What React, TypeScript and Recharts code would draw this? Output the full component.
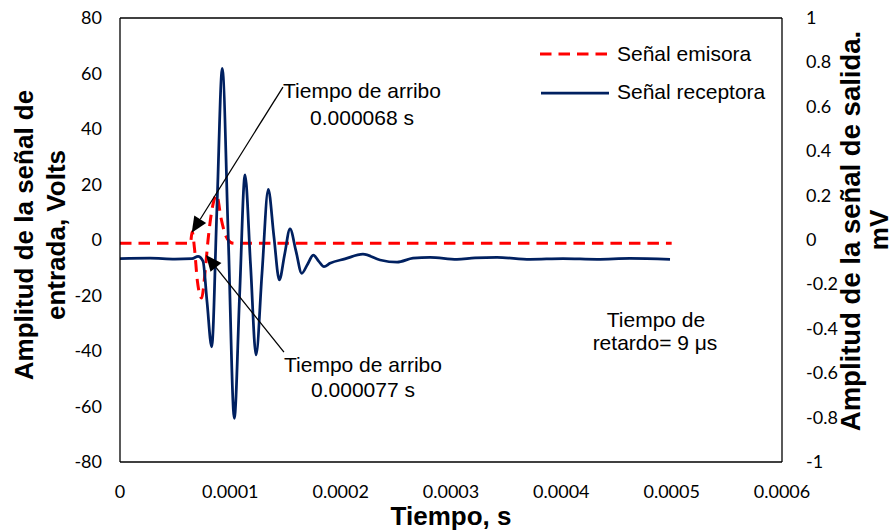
import React from 'react';
import { LineChart, Line, XAxis, YAxis, ReferenceLine } from 'recharts';

// ---- Data ----
const emisoraT = [
  0, 0.00003, 0.0000638, 0.0000654, 0.0000675, 0.0000702, 0.000074, 0.000077,
  0.0000798, 0.0000834, 0.0000876, 0.0000915, 0.0000952, 0.0000997, 0.0001033,
  0.0002, 0.0003, 0.0004, 0.0005,
];
const emisoraV = [
  -1.2, -1.2, -1.2, 3, -3, -15, -20.9, -12,
  0, 11, 16.2, 8, 2.2, -0.7, -1.2,
  -1.2, -1.2, -1.2, -1.2,
];

const receptoraT = [
  0, 0.0000272, 0.0000498, 0.0000653, 0.0000707, 0.0000752, 0.0000789, 0.0000831,
  0.0000879, 0.0000927, 0.0000982, 0.0001036, 0.0001084, 0.0001133, 0.0001183,
  0.0001233, 0.0001287, 0.0001344, 0.0001394, 0.0001444, 0.0001492, 0.0001541,
  0.0001595, 0.0001647, 0.0001699, 0.0001752, 0.00018, 0.0001849, 0.0001903,
  0.0002039, 0.0002202, 0.0002357, 0.0002511, 0.0002656, 0.000281, 0.0003054,
  0.0003218, 0.0003417, 0.0003716, 0.0004015, 0.0004323, 0.0004622, 0.0004985,
];
const receptoraV = [
  -0.084, -0.082, -0.086, -0.084, -0.074, -0.095, -0.28, -0.481,
  0.15, 0.773, 0, -0.803, -0.25, 0.293, -0.11,
  -0.518, -0.15, 0.228, 0.02, -0.18, -0.065, 0.05,
  -0.05, -0.15, -0.11, -0.068, -0.095, -0.12, -0.105,
  -0.085, -0.064, -0.09, -0.1, -0.082, -0.078, -0.087,
  -0.08, -0.078, -0.087, -0.084, -0.087, -0.083, -0.087,
];

const xTicks = [0, 0.0001, 0.0002, 0.0003, 0.0004, 0.0005, 0.0006];
const xTickLabels = ['0', '0.0001', '0.0002', '0.0003', '0.0004', '0.0005', '0.0006'];
const leftTicks = [-80, -60, -40, -20, 0, 20, 40, 60, 80];
const rightTicks = [-1, -0.8, -0.6, -0.4, -0.2, 0, 0.2, 0.4, 0.6, 0.8, 1];

// arrows: [startT, startV, tipT, tipV] on the left axis
const arrow1 = [0.0001477, 55.1, 0.000065, 2.6];
const arrow2 = [0.0001486, -40.4, 0.0000779, -5.4];

const emisoraData = emisoraT.map((t, i) => ({ t, v: emisoraV[i] }));
const receptoraData = receptoraT.map((t, i) => ({ t, v: receptoraV[i] }));

const TICK_FONT = 'Lato, "Open Sans", sans-serif';
const TEXT_FONT = '"Liberation Sans", Arial, sans-serif';
const RED = '#FF0000';
const BLUE = '#002060';

const XTick = (props: any) => {
  const { x, y, payload } = props;
  const idx = xTicks.indexOf(payload.value);
  const label = idx >= 0 ? xTickLabels[idx] : String(payload.value);
  return (
    <text x={x} y={y + 36} textAnchor="middle" fontFamily={TICK_FONT} fontSize={18} fill="#000">
      {label}
    </text>
  );
};

const LeftTick = (props: any) => {
  const { x, y, payload } = props;
  return (
    <text x={x - 18} y={y + 6} textAnchor="end" fontFamily={TICK_FONT} fontSize={18} fill="#000">
      {String(payload.value)}
    </text>
  );
};

const RightTick = (props: any) => {
  const { x, y, payload } = props;
  return (
    <text x={x + 24} y={y + 6} textAnchor="start" fontFamily={TICK_FONT} fontSize={18} fill="#000">
      {String(payload.value)}
    </text>
  );
};

const ArrowShape = (props: any) => {
  const { x1, y1, x2, y2 } = props;
  if ([x1, y1, x2, y2].some((v) => typeof v !== 'number' || isNaN(v))) return null;
  const dx = x2 - x1;
  const dy = y2 - y1;
  const len = Math.sqrt(dx * dx + dy * dy) || 1;
  const ux = dx / len;
  const uy = dy / len;
  const hl = 16;
  const hw = 7;
  const bx = x2 - ux * hl;
  const by = y2 - uy * hl;
  const px = -uy;
  const py = ux;
  const pts = `${x2},${y2} ${bx + px * hw},${by + py * hw} ${bx - px * hw},${by - py * hw}`;
  return (
    <g>
      <line x1={x1} y1={y1} x2={bx} y2={by} stroke="#000" strokeWidth={1.3} />
      <polygon points={pts} fill="#000" />
    </g>
  );
};

export default function App() {
  return (
    <div style={{ position: 'absolute', left: 0, top: 0, width: 895, height: 532, background: '#fff' }}>
      <LineChart
        width={895}
        height={532}
        margin={{ top: 18, right: 0, bottom: 0, left: 0 }}
      >
        <XAxis
          dataKey="t"
          type="number"
          domain={[0, 0.0006]}
          ticks={xTicks}
          allowDataOverflow
          height={70}
          tickLine={false}
          tickSize={0}
          tickMargin={0}
          axisLine={{ stroke: '#000', strokeWidth: 1.3 }}
          tick={<XTick />}
        />
        <YAxis
          yAxisId="left"
          domain={[-80, 80]}
          ticks={leftTicks}
          allowDataOverflow
          width={120}
          tickLine={false}
          tickSize={0}
          tickMargin={0}
          axisLine={{ stroke: '#000', strokeWidth: 1.3 }}
          tick={<LeftTick />}
        />
        <YAxis
          yAxisId="right"
          orientation="right"
          domain={[-1, 1]}
          ticks={rightTicks}
          allowDataOverflow
          width={113}
          tickLine={false}
          tickSize={0}
          tickMargin={0}
          axisLine={{ stroke: '#000', strokeWidth: 1.3 }}
          tick={<RightTick />}
        />
        <ReferenceLine yAxisId="left" y={80} stroke="#000" strokeWidth={1.3} />
        <Line
          yAxisId="left"
          data={emisoraData}
          dataKey="v"
          type="monotone"
          stroke={RED}
          strokeWidth={3}
          strokeDasharray="11.5 7"
          dot={false}
          activeDot={false}
          isAnimationActive={false}
        />
        <Line
          yAxisId="right"
          data={receptoraData}
          dataKey="v"
          type="monotone"
          stroke={BLUE}
          strokeWidth={2.75}
          dot={false}
          activeDot={false}
          isAnimationActive={false}
        />
        <ReferenceLine
          yAxisId="left"
          segment={[{ x: arrow1[0], y: arrow1[1] }, { x: arrow1[2], y: arrow1[3] }]}
          shape={ArrowShape}
        />
        <ReferenceLine
          yAxisId="left"
          segment={[{ x: arrow2[0], y: arrow2[1] }, { x: arrow2[2], y: arrow2[3] }]}
          shape={ArrowShape}
        />
      </LineChart>
      <svg
        width={895}
        height={532}
        style={{ position: 'absolute', left: 0, top: 0, pointerEvents: 'none' }}
      >
        {/* Axis titles */}
        <g fontFamily={TEXT_FONT} fontWeight="bold" fontSize={26} fill="#000" textAnchor="middle">
          <text transform="translate(33,235) rotate(-90)">Amplitud de la señal de</text>
          <text transform="translate(65,235) rotate(-90)">entrada, Volts</text>
          <text transform="translate(860,231) rotate(-90)" fontSize={27.5}>Amplitud de la señal de salida.</text>
          <text transform="translate(888,230) rotate(-90)">mV</text>
          <text x={451} y={525}>Tiempo, s</text>
        </g>
        {/* Annotations */}
        <g fontFamily={TEXT_FONT} fontSize={21} fill="#000" textAnchor="middle">
          <text x={362} y={98}>Tiempo de arribo</text>
          <text x={362} y={125}>0.000068 s</text>
          <text x={363} y={372}>Tiempo de arribo</text>
          <text x={363} y={397}>0.000077 s</text>
          <text x={656} y={327}>Tiempo de</text>
          <text x={655} y={350}>retardo= 9 μs</text>
        </g>
        {/* Legend */}
        <line x1={540} y1={54} x2={607} y2={54} stroke={RED} strokeWidth={3} strokeDasharray="11.5 7" />
        <line x1={541} y1={93} x2={609} y2={93} stroke={BLUE} strokeWidth={2.75} />
        <g fontFamily={TEXT_FONT} fontSize={21} fill="#000">
          <text x={617} y={61}>Señal emisora</text>
          <text x={617} y={99}>Señal receptora</text>
        </g>
      </svg>
    </div>
  );
}
